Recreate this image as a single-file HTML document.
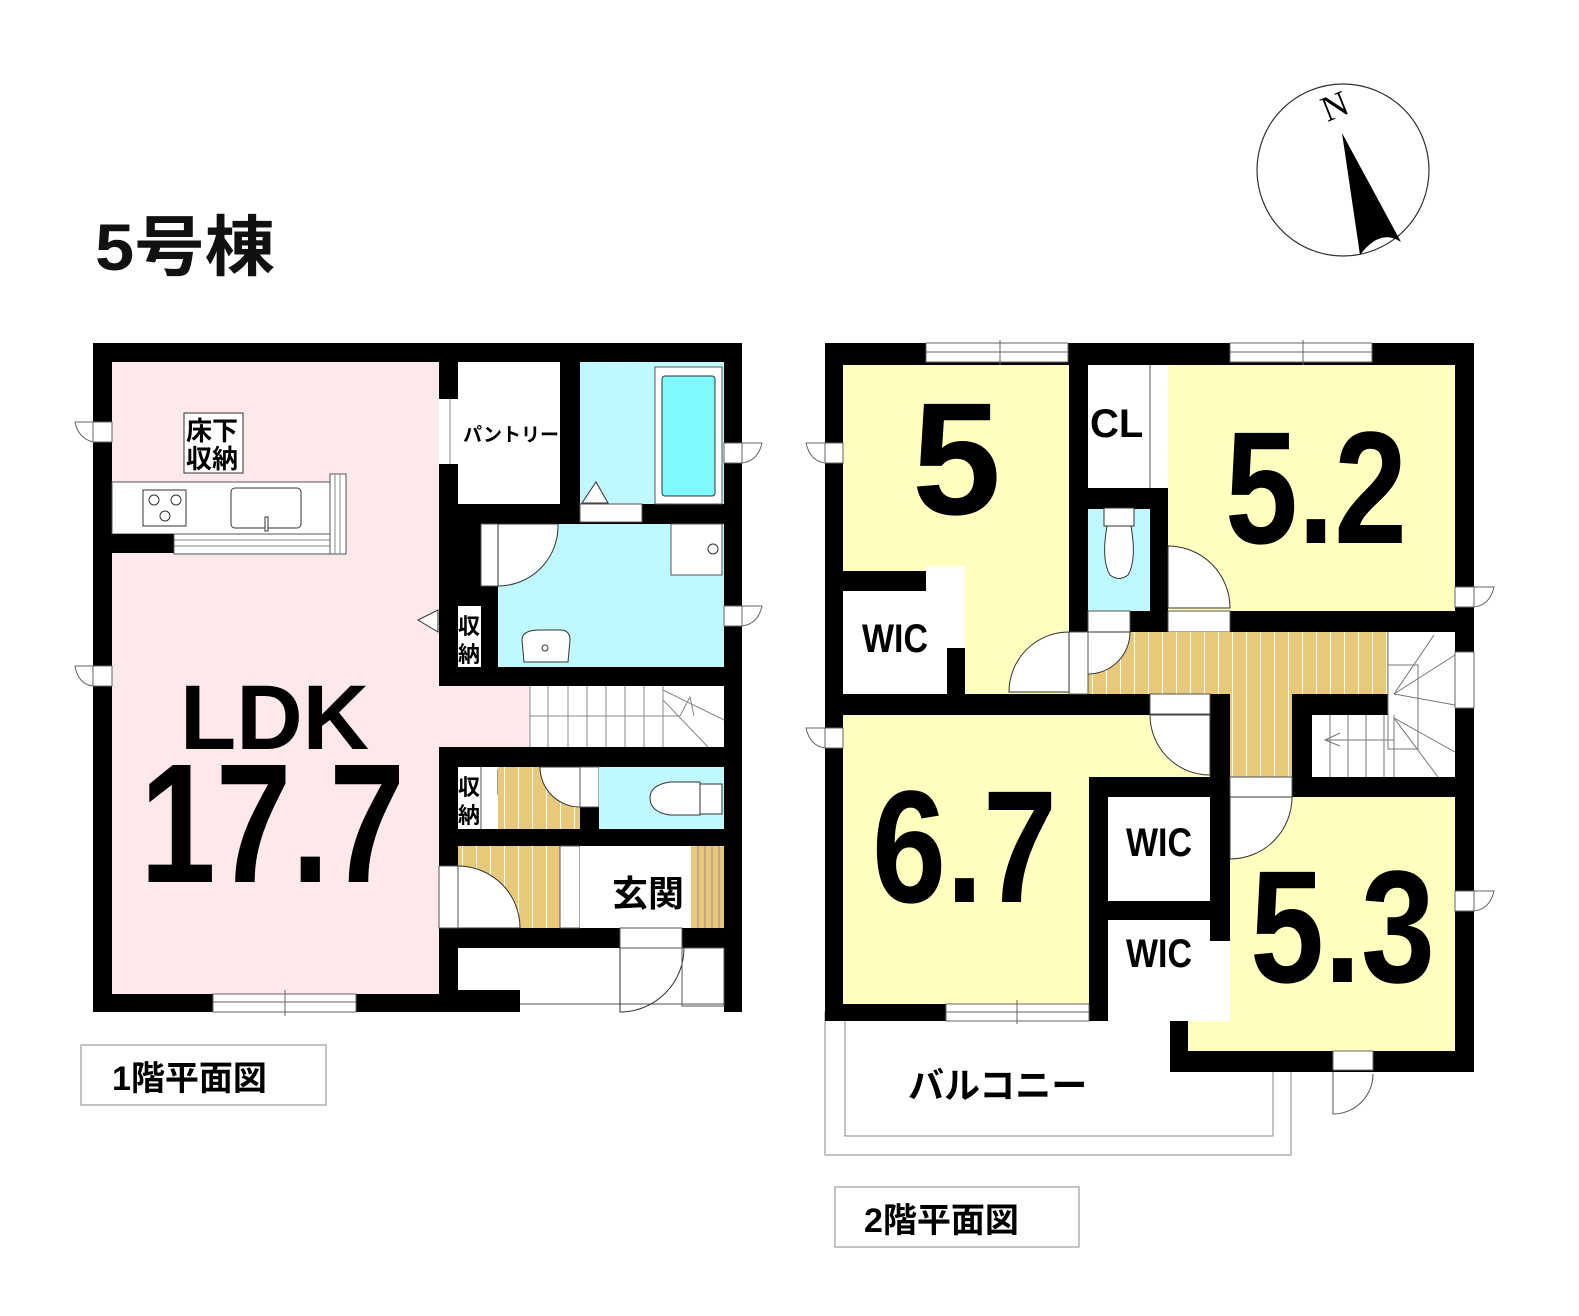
<!DOCTYPE html>
<html><head><meta charset="utf-8"><style>
html,body{margin:0;padding:0;background:#fff;}
svg{display:block;}
text{font-family:"Liberation Sans","Noto Sans CJK JP",sans-serif;font-weight:bold;}
</style></head><body>
<svg width="1579" height="1316" viewBox="0 0 1579 1316" xmlns="http://www.w3.org/2000/svg">
<defs>
<pattern id="hall" width="14" height="10" patternUnits="userSpaceOnUse"><rect width="14" height="10" fill="#e8c87a"/><line x1="0.5" y1="0" x2="0.5" y2="10" stroke="#fff" stroke-width="1"/></pattern>
</defs>
<rect width="1579" height="1316" fill="#fff"/>
<text x="95" y="270" font-size="66" fill="#111" textLength="180" lengthAdjust="spacingAndGlyphs">5号棟</text>
<circle cx="1343" cy="170" r="86" fill="#fff" stroke="#333" stroke-width="1.2"/>
<text x="1322" y="120" font-size="36" transform="rotate(-22 1330 108)" style="font-family:'Liberation Serif',serif;font-weight:normal">N</text>
<path d="M1342 133 L1401 242 Q1380 228 1360 255 Z" fill="#000"/>

<rect x="93" y="343" width="649" height="669" fill="#000"/>
<rect x="112" y="362" width="327" height="632" fill="#fde8ea"/>
<rect x="439" y="686" width="91" height="61" fill="#fde8ea"/>
<rect x="439" y="399" width="19" height="65" fill="#fff"/>
<line x1="450" y1="399" x2="450" y2="464" stroke="#888"/>
<rect x="458" y="362" width="102" height="142" fill="#fff"/>
<text x="463" y="441" font-size="19">パントリー</text>
<rect x="580" y="362" width="144" height="142" fill="#bff8ff"/>
<rect x="655" y="367" width="67" height="137" fill="#fff" stroke="#555"/>
<rect x="662" y="376" width="53" height="120" rx="3" fill="#7ff8ff" stroke="#333"/>
<rect x="580" y="504" width="62" height="18" fill="#fff" stroke="#555"/>
<path d="M582 503 L596 482 L608 503 Z" fill="#fff" stroke="#333"/>
<rect x="481" y="524" width="17" height="62" fill="#fff" stroke="#555"/>
<rect x="498" y="524" width="226" height="143" fill="#bff8ff"/>
<path d="M498 586 A60 60 0 0 0 558 524 L498 524 Z" fill="#fff" stroke="#333"/>
<rect x="671" y="524" width="51" height="51" fill="#fff" stroke="#555"/>
<circle cx="713" cy="549" r="5" fill="#fff" stroke="#333"/>
<path d="M522 640 Q522 630 540 630 L560 630 Q570 630 570 640 L568 662 L524 662 Z" fill="#fff" stroke="#333"/>
<circle cx="545" cy="648" r="3" fill="#fff" stroke="#333"/>
<rect x="458" y="606" width="23" height="61" fill="#fff"/>
<path d="M438 610 L418 620 L438 632 Z" fill="#fff" stroke="#333"/>
<text x="458" y="634" font-size="22">収</text>
<text x="458" y="662" font-size="22">納</text>
<rect x="530" y="686" width="194" height="61" fill="#fff"/>
<g stroke="#888" stroke-width="1">
<line x1="530" y1="686" x2="530" y2="747"/>
<line x1="548" y1="686" x2="548" y2="747"/><line x1="568" y1="686" x2="568" y2="747"/><line x1="587" y1="686" x2="587" y2="747"/><line x1="606" y1="686" x2="606" y2="747"/><line x1="625" y1="686" x2="625" y2="747"/><line x1="644" y1="686" x2="644" y2="747"/><line x1="663" y1="686" x2="663" y2="747"/>
<line x1="530" y1="716" x2="680" y2="716"/>
<line x1="663" y1="690" x2="724" y2="720"/><line x1="663" y1="700" x2="708" y2="747"/>
<path d="M680 716 L690 697 L694 716" fill="none"/>
</g>
<rect x="458" y="767" width="40" height="62" fill="#fff"/>
<line x1="481" y1="767" x2="481" y2="829" stroke="#555"/>
<path d="M498 770 L522 782 L498 794 Z" fill="#fff" stroke="#333"/>
<text x="458" y="795" font-size="22">収</text>
<text x="458" y="823" font-size="22">納</text>
<rect x="498" y="767" width="82" height="62" fill="url(#hall)"/>
<rect x="458" y="846" width="102" height="82" fill="url(#hall)"/>
<path d="M540 767 A40 40 0 0 0 580 807 L580 767 Z" fill="#fff" stroke="#333"/>
<rect x="580" y="767" width="19" height="40" fill="#fff" stroke="#555"/>
<path d="M458 866 A62 62 0 0 1 520 928 L458 928 Z" fill="#fff" stroke="#333"/>
<rect x="439" y="866" width="19" height="62" fill="#fff" stroke="#555"/>
<rect x="599" y="767" width="125" height="62" fill="#bff8ff"/>
<path d="M700 782 L670 782 Q650 785 650 798 Q650 812 670 815 L700 815 Z" fill="#fff" stroke="#333"/>
<rect x="700" y="784" width="22" height="30" fill="#fff" stroke="#333"/>
<rect x="560" y="846" width="20" height="82" fill="#fff" stroke="#555"/>
<rect x="580" y="846" width="111" height="82" fill="#fff"/>
<rect x="691" y="846" width="33" height="82" fill="#e8c87a"/>
<g stroke="#a88" stroke-width="1"><line x1="698" y1="846" x2="698" y2="928"/><line x1="705" y1="846" x2="705" y2="928"/><line x1="712" y1="846" x2="712" y2="928"/><line x1="719" y1="846" x2="719" y2="928"/></g>
<text x="612" y="906" font-size="36">玄関</text>
<rect x="458" y="948" width="266" height="42" fill="#fff"/>
<rect x="520" y="990" width="204" height="22" fill="#fff"/>
<line x1="520" y1="1004" x2="724" y2="1004" stroke="#555"/>
<rect x="620" y="928" width="62" height="20" fill="#fff" stroke="#555"/>
<path d="M620 948 L620 1012 A64 64 0 0 0 684 948" fill="none" stroke="#333"/>
<rect x="682" y="948" width="42" height="58" fill="none" stroke="#555"/>
<rect x="112" y="482" width="218" height="52" fill="#fff" stroke="#555"/>
<rect x="112" y="534" width="62" height="19" fill="#000"/>
<rect x="174" y="534" width="156" height="20" fill="#fff" stroke="#555"/>
<g stroke="#888"><line x1="174" y1="540" x2="330" y2="540"/><line x1="174" y1="546" x2="330" y2="546"/></g>
<rect x="330" y="474" width="16" height="80" fill="#fff" stroke="#555"/>
<g stroke="#888"><line x1="335" y1="474" x2="335" y2="554"/><line x1="340" y1="474" x2="340" y2="554"/></g>
<rect x="143" y="490" width="43" height="36" fill="#fff" stroke="#333"/>
<circle cx="154" cy="500" r="5" fill="none" stroke="#333"/><circle cx="176" cy="500" r="5" fill="none" stroke="#333"/><circle cx="165" cy="516" r="5" fill="none" stroke="#333"/>
<rect x="231" y="488" width="70" height="40" rx="4" fill="#fff" stroke="#333"/>
<rect x="265" y="517" width="3" height="14" fill="#fff" stroke="#333"/>
<rect x="184" y="413" width="59" height="60" fill="#fff" stroke="#333"/>
<text x="186" y="440" font-size="26">床下</text>
<text x="186" y="468" font-size="26">収納</text>
<rect x="213" y="994" width="143" height="18" fill="#fff" stroke="#666"/>
<line x1="213" y1="1002" x2="356" y2="1002" stroke="#666"/>
<line x1="285" y1="990" x2="285" y2="1016" stroke="#666"/>
<rect x="93" y="422" width="19" height="20" fill="#fff" stroke="#666"/><path d="M93 422 L75 422 Q78 438 93 442" fill="none" stroke="#666"/>
<rect x="93" y="666" width="19" height="20" fill="#fff" stroke="#666"/><path d="M93 666 L75 666 Q78 684 93 686" fill="none" stroke="#666"/>
<rect x="724" y="443" width="18" height="20" fill="#fff" stroke="#666"/><path d="M742 443 L762 443 Q758 461 742 463" fill="none" stroke="#666"/>
<rect x="724" y="606" width="18" height="20" fill="#fff" stroke="#666"/><path d="M742 606 L762 606 Q758 624 742 626" fill="none" stroke="#666"/>
<text x="180" y="749" font-size="92">LDK</text>
<text x="140" y="882" font-size="170" textLength="265" lengthAdjust="spacingAndGlyphs">17.7</text>
<rect x="81" y="1045" width="245" height="60" fill="#fff" stroke="#888"/>
<text x="112" y="1090" font-size="34">1階平面図</text>

<rect x="825" y="1012" width="466" height="143" fill="#fff" stroke="#888"/>
<rect x="845" y="1012" width="428" height="124" fill="#fff" stroke="#888"/>
<text x="908" y="1098" font-size="36">バルコニー</text>
<rect x="825" y="343" width="649" height="678" fill="#000"/>
<rect x="1170" y="1000" width="304" height="72" fill="#000"/>
<rect x="843" y="365" width="226" height="329" fill="#ffffbf"/>
<rect x="843" y="571" width="83" height="20" fill="#000"/>
<rect x="843" y="591" width="122" height="103" fill="#fff"/>
<rect x="926" y="566" width="39" height="25" fill="#fff"/>
<rect x="947" y="648" width="18" height="46" fill="#000"/>
<text x="862" y="652" font-size="40" textLength="66" lengthAdjust="spacingAndGlyphs">WIC</text>
<text x="912" y="514" font-size="160">5</text>
<rect x="1088" y="365" width="80" height="123" fill="#fff"/>
<line x1="1150" y1="365" x2="1150" y2="488" stroke="#555"/>
<path d="M1168 365 L1192 378 L1168 390 M1168 452 L1192 465 L1168 478" fill="#fff" stroke="#333"/>
<text x="1090" y="437" font-size="40">CL</text>
<rect x="1088" y="509" width="62" height="102" fill="#bff8ff"/>
<rect x="1104" y="508" width="30" height="18" fill="#fff" stroke="#333"/>
<path d="M1107 526 L1131 526 Q1137 560 1128 575 Q1119 582 1110 575 Q1101 560 1107 526 Z" fill="#fff" stroke="#333"/>
<rect x="1168" y="365" width="287" height="246" fill="#ffffbf"/>
<path d="M1168 546 A62 62 0 0 1 1230 608 L1168 608 Z" fill="#fff" stroke="#333"/>
<rect x="1168" y="611" width="62" height="21" fill="#fff" stroke="#555"/>
<text x="1225" y="543" font-size="160" textLength="182" lengthAdjust="spacingAndGlyphs">5.2</text>
<rect x="1088" y="632" width="300" height="62" fill="url(#hall)"/>
<rect x="1230" y="694" width="62" height="83" fill="url(#hall)"/>
<rect x="1088" y="611" width="42" height="21" fill="#fff" stroke="#555"/>
<path d="M1088 632 L1130 632 A42 42 0 0 1 1088 674 Z" fill="#fff" stroke="#333"/>
<rect x="1069" y="632" width="19" height="62" fill="#fff" stroke="#555"/>
<path d="M1069 632 A60 60 0 0 0 1009 692 L1069 692 Z" fill="#fff" stroke="#333"/>
<rect x="1388" y="632" width="67" height="145" fill="#fff"/>
<rect x="1312" y="715" width="143" height="62" fill="#fff"/>
<g stroke="#777" stroke-width="1" fill="none">
<line x1="1388" y1="632" x2="1388" y2="694"/>
<rect x="1388" y="665" width="30" height="84"/>
<line x1="1394" y1="694" x2="1434" y2="635"/><line x1="1394" y1="694" x2="1455" y2="655"/><line x1="1394" y1="694" x2="1455" y2="705"/>
<line x1="1394" y1="718" x2="1455" y2="752"/><line x1="1394" y1="718" x2="1438" y2="777"/>
<line x1="1330" y1="715" x2="1330" y2="777"/><line x1="1348" y1="715" x2="1348" y2="777"/><line x1="1366" y1="715" x2="1366" y2="777"/><line x1="1384" y1="715" x2="1384" y2="777"/><line x1="1394" y1="715" x2="1394" y2="777"/>
<line x1="1325" y1="740" x2="1394" y2="740"/>
<path d="M1340 733 L1325 740 L1340 746"/>
</g>
<rect x="1455" y="652" width="19" height="56" fill="#fff" stroke="#666"/>
<rect x="843" y="715" width="246" height="289" fill="#ffffbf"/>
<rect x="1089" y="715" width="121" height="62" fill="#ffffbf"/>
<rect x="1150" y="694" width="60" height="20" fill="#fff" stroke="#555"/>
<path d="M1150 715 A60 60 0 0 0 1210 775 L1210 715 Z" fill="#fff" stroke="#333"/>
<rect x="1108" y="797" width="102" height="104" fill="#fff"/>
<rect x="1108" y="920" width="122" height="101" fill="#fff"/>
<rect x="1210" y="920" width="20" height="21" fill="#000"/>
<text x="1126" y="856" font-size="40" textLength="66" lengthAdjust="spacingAndGlyphs">WIC</text>
<text x="1126" y="967" font-size="40" textLength="66" lengthAdjust="spacingAndGlyphs">WIC</text>
<text x="872" y="902" font-size="160" textLength="185" lengthAdjust="spacingAndGlyphs">6.7</text>
<rect x="1230" y="797" width="225" height="254" fill="#ffffbf"/>
<rect x="1188" y="1021" width="42" height="30" fill="#ffffbf"/>
<rect x="1210" y="941" width="20" height="80" fill="#fff"/>
<rect x="1230" y="777" width="62" height="20" fill="#fff" stroke="#555"/>
<path d="M1230 797 L1292 797 A62 62 0 0 1 1230 859 Z" fill="#fff" stroke="#333"/>
<text x="1250" y="982" font-size="160" textLength="185" lengthAdjust="spacingAndGlyphs">5.3</text>
<rect x="926" y="343" width="142" height="19" fill="#fff" stroke="#666"/><line x1="926" y1="352" x2="1068" y2="352" stroke="#666"/><line x1="1000" y1="340" x2="1000" y2="365" stroke="#666"/>
<rect x="1230" y="343" width="142" height="19" fill="#fff" stroke="#666"/><line x1="1230" y1="352" x2="1372" y2="352" stroke="#666"/><line x1="1303" y1="340" x2="1303" y2="365" stroke="#666"/>
<rect x="946" y="1004" width="143" height="17" fill="#fff" stroke="#666"/><line x1="946" y1="1012" x2="1089" y2="1012" stroke="#666"/><line x1="1017" y1="1000" x2="1017" y2="1024" stroke="#666"/>
<rect x="825" y="443" width="18" height="20" fill="#fff" stroke="#666"/><path d="M825 443 L806 443 Q810 461 825 463" fill="none" stroke="#666"/>
<rect x="825" y="728" width="18" height="20" fill="#fff" stroke="#666"/><path d="M825 728 L806 728 Q810 746 825 748" fill="none" stroke="#666"/>
<rect x="1455" y="587" width="19" height="20" fill="#fff" stroke="#666"/><path d="M1474 587 L1494 587 Q1490 605 1474 607" fill="none" stroke="#666"/>
<rect x="1455" y="891" width="19" height="20" fill="#fff" stroke="#666"/><path d="M1474 891 L1494 891 Q1490 909 1474 911" fill="none" stroke="#666"/>
<path d="M1333 1072 L1333 1114 A40 40 0 0 0 1373 1074" fill="#fff" stroke="#555"/>
<rect x="1333" y="1051" width="40" height="19" fill="#fff" stroke="#666"/>
<rect x="835" y="1187" width="244" height="60" fill="#fff" stroke="#888"/>
<text x="864" y="1232" font-size="34">2階平面図</text>
</svg>
</body></html>
